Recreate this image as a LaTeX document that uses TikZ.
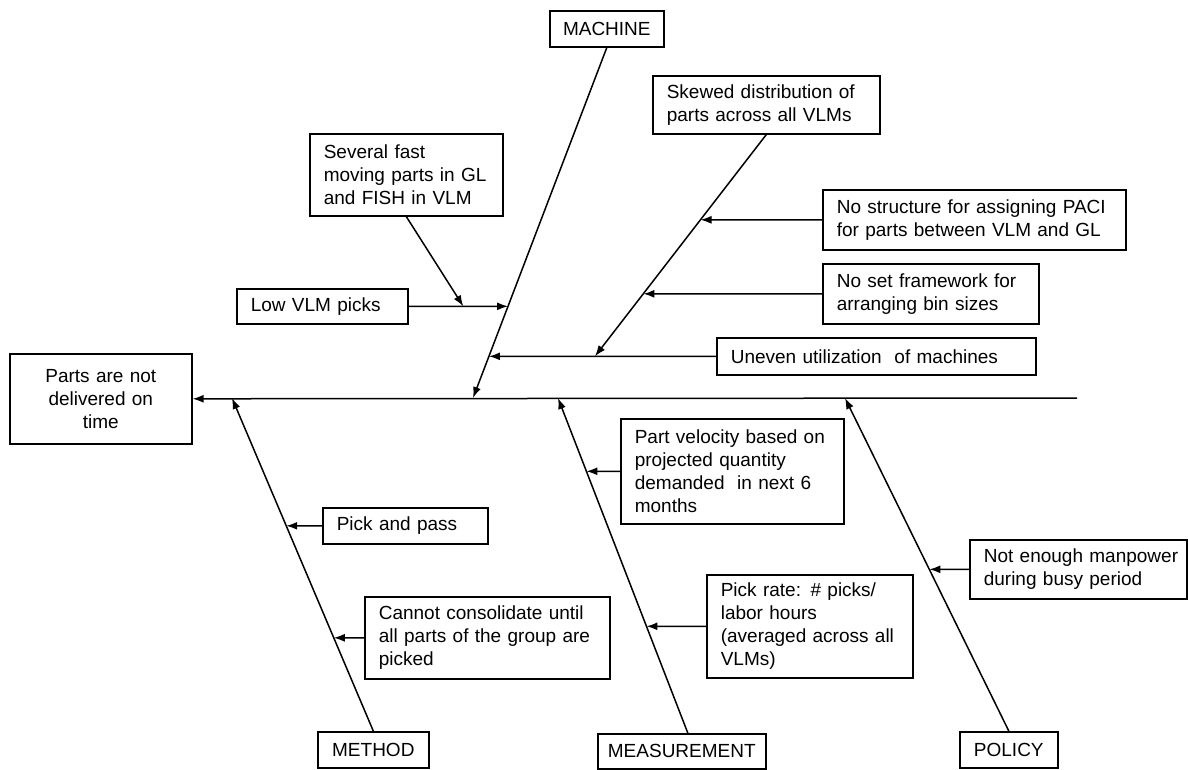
\documentclass[tikz,border=0pt]{standalone}
\usepackage{fontspec}
\setmainfont{Liberation Sans}
\usetikzlibrary{arrows.meta,calc}
\begin{document}
\begin{tikzpicture}[x=1pt,y=-1pt,
  every node/.style={font=\fontsize{19}{23}\selectfont},
  box/.style={draw, line width=1.6pt, anchor=north west, inner xsep=14pt, inner ysep=0pt, align=left},
  lbl/.style={draw, line width=1.6pt, anchor=north west, inner sep=0pt, align=center},
  arr/.style={line width=1.5pt, -{Latex[length=11pt,width=8pt]}}]
\useasboundingbox (0,0) rectangle (1188,770);

% effect and category labels
\node[lbl, minimum width=182pt, minimum height=90pt, text width=170pt] (effect) at (9,353) {Parts are not\\delivered on\\time};
\node[lbl, minimum width=114pt, minimum height=36pt] (machine) at (549,10) {MACHINE};
\node[lbl, minimum width=111pt, minimum height=36pt] (method) at (317,731) {METHOD};
\node[lbl, minimum width=168pt, minimum height=35pt] (meas) at (597,733) {MEASUREMENT};
\node[lbl, minimum width=98pt, minimum height=36pt] (policy) at (959,731) {POLICY};

% cause boxes
\node[box, text width=165pt, minimum width=193pt, minimum height=82pt] (several) at (309,133) {\mbox{Several fast}\\\mbox{moving parts in GL}\\\mbox{and FISH in VLM}};
\node[box, text width=143pt, minimum width=171pt, minimum height=35pt] (lowvlm) at (236,288) {\mbox{Low VLM picks}};
\node[box, text width=199pt, minimum width=227pt, minimum height=58pt] (skewed) at (652,75) {\mbox{Skewed distribution of}\\\mbox{parts across all VLMs}};
\node[box, text width=275pt, minimum width=303pt, minimum height=60pt] (nostruct) at (822,189) {\mbox{No structure for assigning PACI}\\\mbox{for parts between VLM and GL}};
\node[box, text width=188pt, minimum width=216pt, minimum height=60pt] (noset) at (822,263) {\mbox{No set framework for}\\\mbox{arranging bin sizes}};
\node[box, text width=291pt, minimum width=319pt, minimum height=37pt] (uneven) at (716,337) {\mbox{Uneven utilization\ \ of machines}};
\node[box, text width=137pt, minimum width=165pt, minimum height=36pt] (pickpass) at (322,507) {\mbox{Pick and pass}};
\node[box, text width=217pt, minimum width=245pt, minimum height=82pt] (cannot) at (364,596) {\mbox{Cannot consolidate until}\\\mbox{all parts of the group are}\\\mbox{picked}};
\node[box, text width=195pt, minimum width=223pt, minimum height=105pt] (partvel) at (620,418) {\mbox{Part velocity based on}\\\mbox{projected quantity}\\\mbox{demanded\ \ in next 6}\\\mbox{months}};
\node[box, text width=178pt, minimum width=206pt, minimum height=103pt] (pickrate) at (706,574) {\mbox{Pick rate: \# picks/}\\\mbox{labor hours}\\\mbox{(averaged across all}\\\mbox{VLMs)}};
\node[box, text width=189pt, minimum width=217pt, minimum height=59pt] (notenough) at (969,539) {\mbox{Not enough manpower}\\\mbox{during busy period}};

% spine
\coordinate (spineR) at (1077,398);
\draw[arr] (spineR) -- (effect.east);

% main branches
\coordinate (machT) at (473,398);
\coordinate (methT) at (232,398);
\coordinate (measT) at (558,398);
\coordinate (polT) at (845,398);
\coordinate (measB) at ($(meas.north)+(6,0)$);
\draw[arr] (machine.south) -- (machT);
\draw[arr] (method.north) -- (methT);
\draw[arr] (measB) -- (measT);
\draw[arr] (policy.north) -- (polT);

% machine causes
\coordinate (lowH) at ($(lowvlm.east)+(300,0)$);
\coordinate (lowT) at (intersection of lowvlm.east--lowH and machine.south--machT);
\draw[arr] (lowvlm.east) -- (lowT);
\coordinate (sevT) at ($(lowvlm.east)!0.55!(lowT)$);
\draw[arr] (several.south) -- (sevT);

\coordinate (unH) at ($(uneven.west)+(-400,0)$);
\coordinate (unT) at (intersection of uneven.west--unH and machine.south--machT);
\draw[arr] (uneven.west) -- (unT);
\coordinate (skT) at ($(uneven.west)!0.533!(unT)$);
\draw[arr] (skewed.south) -- (skT);

\coordinate (nsH) at ($(nostruct.west)+(-300,0)$);
\coordinate (nsT) at (intersection of nostruct.west--nsH and skewed.south--skT);
\draw[arr] (nostruct.west) -- (nsT);
\coordinate (nfH) at ($(noset.west)+(-300,0)$);
\coordinate (nfT) at (intersection of noset.west--nfH and skewed.south--skT);
\draw[arr] (noset.west) -- (nfT);

% method causes
\coordinate (ppH) at ($(pickpass.west)+(-200,0)$);
\coordinate (ppT) at (intersection of pickpass.west--ppH and method.north--methT);
\draw[arr] (pickpass.west) -- (ppT);
\coordinate (ccH) at ($(cannot.west)+(-200,0)$);
\coordinate (ccT) at (intersection of cannot.west--ccH and method.north--methT);
\draw[arr] (cannot.west) -- (ccT);

% measurement causes
\coordinate (pvH) at ($(partvel.west)+(-200,0)$);
\coordinate (pvT) at (intersection of partvel.west--pvH and measB--measT);
\draw[arr] (partvel.west) -- (pvT);
\coordinate (prH) at ($(pickrate.west)+(-200,0)$);
\coordinate (prT) at (intersection of pickrate.west--prH and measB--measT);
\draw[arr] (pickrate.west) -- (prT);

% policy causes
\coordinate (neH) at ($(notenough.west)+(-200,0)$);
\coordinate (neT) at (intersection of notenough.west--neH and policy.north--polT);
\draw[arr] (notenough.west) -- (neT);
\end{tikzpicture}
\end{document}
